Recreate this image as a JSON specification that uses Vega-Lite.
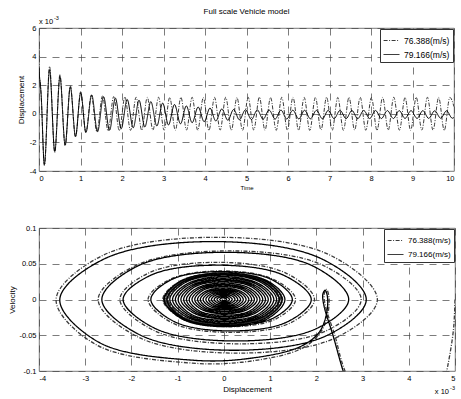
{
"$schema":"https://vega.github.io/schema/vega-lite/v6.json",
"background":"white",
"padding":{"left":8,"top":7,"right":4,"bottom":2},
"spacing":57,
"bounds":"flush",
"resolve":{"scale":{"color":"independent","strokeDash":"independent"},"legend":{"color":"independent","strokeDash":"independent"}},
"config":{
 "font":"Liberation Sans",
 "view":{"stroke":"#555","strokeWidth":0.8},
 "axis":{"domain":false,"ticks":false,"labelOverlap":false,"labelFontSize":7.5,"labelColor":"#000","titleFontSize":8,"titleFontWeight":"normal","titleColor":"#000","grid":true,"gridColor":"#444","gridDash":[7,6],"gridWidth":0.7,"labelPadding":3,"labelExpr":"'' + datum.value"},
 "legend":{"orient":"top-right","offset":1,"fillColor":"#fff","strokeColor":"#333","padding":3,"labelFontSize":8.5,"labelColor":"#000","symbolType":"stroke","symbolSize":250,"symbolStrokeWidth":1,"rowPadding":1}
},
"datasets":{
"top":[
{"s":"a","t":0,"d":5},{"s":"a","t":0.012,"d":2.6},{"s":"a","t":0.03,"d":2.2},{"s":"a","t":0.05,"d":1.4},{"s":"a","t":0.13,"d":-3.63},{"s":"a","t":0.255,"d":3.32},{"s":"a","t":0.38,"d":-2.72},{"s":"a","t":0.505,"d":2.75},{"s":"a","t":0.63,"d":-2.25},{"s":"a","t":0.755,"d":1.96},{"s":"a","t":0.88,"d":-1.64},{"s":"a","t":1.005,"d":1.55},{"s":"a","t":1.13,"d":-1.32},
{"s":"a","t":1.26,"d":1.3},{"s":"a","t":1.395,"d":-1.25},{"s":"a","t":1.53,"d":1.25},{"s":"a","t":1.665,"d":-1.2},{"s":"a","t":1.8,"d":1.2},{"s":"a","t":1.935,"d":-1.18},{"s":"a","t":2.07,"d":1.18},{"s":"a","t":2.205,"d":-1.16},{"s":"a","t":2.34,"d":1.16},{"s":"a","t":2.475,"d":-1.15},{"s":"a","t":2.61,"d":1.15},{"s":"a","t":2.745,"d":-1.14},{"s":"a","t":2.88,"d":1.16},{"s":"a","t":3.015,"d":-1.15},{"s":"a","t":3.15,"d":1.14},{"s":"a","t":3.285,"d":-1.16},{"s":"a","t":3.42,"d":1.15},{"s":"a","t":3.555,"d":-1.14},{"s":"a","t":3.69,"d":1.16},{"s":"a","t":3.825,"d":-1.15},{"s":"a","t":3.96,"d":1.14},{"s":"a","t":4.095,"d":-1.16},{"s":"a","t":4.23,"d":1.15},{"s":"a","t":4.365,"d":-1.14},{"s":"a","t":4.5,"d":1.16},{"s":"a","t":4.635,"d":-1.15},{"s":"a","t":4.77,"d":1.14},{"s":"a","t":4.905,"d":-1.16},{"s":"a","t":5.04,"d":1.15},{"s":"a","t":5.175,"d":-1.14},{"s":"a","t":5.31,"d":1.16},{"s":"a","t":5.445,"d":-1.15},{"s":"a","t":5.58,"d":1.14},{"s":"a","t":5.715,"d":-1.16},{"s":"a","t":5.85,"d":1.15},{"s":"a","t":5.985,"d":-1.14},{"s":"a","t":6.12,"d":1.16},{"s":"a","t":6.255,"d":-1.15},{"s":"a","t":6.39,"d":1.14},{"s":"a","t":6.525,"d":-1.16},{"s":"a","t":6.66,"d":1.15},{"s":"a","t":6.795,"d":-1.14},{"s":"a","t":6.93,"d":1.16},{"s":"a","t":7.065,"d":-1.15},{"s":"a","t":7.2,"d":1.14},{"s":"a","t":7.335,"d":-1.16},{"s":"a","t":7.47,"d":1.15},{"s":"a","t":7.605,"d":-1.14},{"s":"a","t":7.74,"d":1.16},{"s":"a","t":7.875,"d":-1.15},{"s":"a","t":8.01,"d":1.14},{"s":"a","t":8.145,"d":-1.16},{"s":"a","t":8.28,"d":1.15},{"s":"a","t":8.415,"d":-1.14},{"s":"a","t":8.55,"d":1.16},{"s":"a","t":8.685,"d":-1.15},{"s":"a","t":8.82,"d":1.14},{"s":"a","t":8.955,"d":-1.16},{"s":"a","t":9.09,"d":1.15},{"s":"a","t":9.225,"d":-1.14},{"s":"a","t":9.36,"d":1.16},{"s":"a","t":9.495,"d":-1.15},{"s":"a","t":9.63,"d":1.14},{"s":"a","t":9.765,"d":-1.16},{"s":"a","t":9.9,"d":1.15},{"s":"a","t":10,"d":0.5},
{"s":"b","t":0,"d":3.2},{"s":"b","t":0.015,"d":2.5},{"s":"b","t":0.03,"d":2.15},{"s":"b","t":0.05,"d":1.4},{"s":"b","t":0.13,"d":-3.55},{"s":"b","t":0.255,"d":3.08},{"s":"b","t":0.38,"d":-2.64},{"s":"b","t":0.505,"d":2.6},{"s":"b","t":0.63,"d":-2.18},{"s":"b","t":0.755,"d":1.89},{"s":"b","t":0.88,"d":-1.58},{"s":"b","t":1.005,"d":1.48},{"s":"b","t":1.13,"d":-1.3},
{"s":"b","t":1.27,"d":1.32},{"s":"b","t":1.41,"d":-1.26},{"s":"b","t":1.555,"d":1.2},{"s":"b","t":1.7,"d":-1.15},{"s":"b","t":1.84,"d":1.1},{"s":"b","t":1.98,"d":-1.05},{"s":"b","t":2.125,"d":1.0},{"s":"b","t":2.27,"d":-0.98},{"s":"b","t":2.41,"d":0.95},{"s":"b","t":2.55,"d":-0.92},{"s":"b","t":2.695,"d":0.85},{"s":"b","t":2.84,"d":-0.85},{"s":"b","t":2.98,"d":0.75},{"s":"b","t":3.12,"d":-0.78},{"s":"b","t":3.265,"d":0.65},{"s":"b","t":3.41,"d":-0.7},{"s":"b","t":3.55,"d":0.55},{"s":"b","t":3.69,"d":-0.62},{"s":"b","t":3.835,"d":0.47},{"s":"b","t":3.98,"d":-0.55},{"s":"b","t":4.12,"d":0.4},{"s":"b","t":4.26,"d":-0.5},{"s":"b","t":4.405,"d":0.34},{"s":"b","t":4.55,"d":-0.45},{"s":"b","t":4.69,"d":0.3},{"s":"b","t":4.83,"d":-0.42},{"s":"b","t":4.975,"d":0.28},{"s":"b","t":5.12,"d":-0.4},{"s":"b","t":5.26,"d":0.27},{"s":"b","t":5.4,"d":-0.38},{"s":"b","t":5.545,"d":0.26},{"s":"b","t":5.69,"d":-0.37},{"s":"b","t":5.83,"d":0.26},{"s":"b","t":5.97,"d":-0.36},{"s":"b","t":6.115,"d":0.25},{"s":"b","t":6.26,"d":-0.36},{"s":"b","t":6.4,"d":0.25},{"s":"b","t":6.54,"d":-0.35},{"s":"b","t":6.685,"d":0.24},{"s":"b","t":6.83,"d":-0.35},{"s":"b","t":6.97,"d":0.24},{"s":"b","t":7.11,"d":-0.34},{"s":"b","t":7.255,"d":0.24},{"s":"b","t":7.4,"d":-0.34},{"s":"b","t":7.54,"d":0.23},{"s":"b","t":7.68,"d":-0.34},{"s":"b","t":7.825,"d":0.23},{"s":"b","t":7.97,"d":-0.33},{"s":"b","t":8.11,"d":0.23},{"s":"b","t":8.25,"d":-0.33},{"s":"b","t":8.395,"d":0.22},{"s":"b","t":8.54,"d":-0.33},{"s":"b","t":8.68,"d":0.22},{"s":"b","t":8.82,"d":-0.32},{"s":"b","t":8.965,"d":0.22},{"s":"b","t":9.11,"d":-0.32},{"s":"b","t":9.25,"d":0.22},{"s":"b","t":9.39,"d":-0.32},{"s":"b","t":9.535,"d":0.21},{"s":"b","t":9.68,"d":-0.31},{"s":"b","t":9.82,"d":0.21},{"s":"b","t":9.96,"d":-0.31},{"s":"b","t":10,"d":-0.25}
],
"ph":[
{"s":"a","x":5.0,"v":0},{"s":"a","x":4.97,"v":-0.04},{"s":"a","x":4.88,"v":-0.08},{"s":"a","x":4.78,"v":-0.11},{"s":"a","x":4.3,"v":-0.2},{"s":"a","x":3.4,"v":-0.2},{"s":"a","x":2.62,"v":-0.1},{"s":"a","x":2.4,"v":-0.05},{"s":"a","x":2.2,"v":-0.01},{"s":"a","x":2.17,"v":0.008},{"s":"a","x":2.22,"v":0.014},{"s":"a","x":2.27,"v":0.005},{"s":"a","x":2.25,"v":-0.02},{"s":"a","x":2.1,"v":-0.045},{"s":"a","x":1.7,"v":-0.068},{"s":"a","x":0.6,"v":-0.086},{"s":"a","x":-0.68,"v":-0.089},{"s":"a","x":-2.77,"v":-0.063},{"s":"a","x":-3.63,"v":0},
{"s":"a","x":-2.61,"v":0.062},{"s":"a","x":-0.16,"v":0.087},{"s":"a","x":2.3,"v":0.062},{"s":"a","x":3.32,"v":0},
{"s":"a","x":2.44,"v":-0.053},{"s":"a","x":0.3,"v":-0.075},{"s":"a","x":-1.84,"v":-0.053},{"s":"a","x":-2.72,"v":0},
{"s":"a","x":-1.89,"v":0.048},{"s":"a","x":0.13,"v":0.068},{"s":"a","x":2.14,"v":0.048},{"s":"a","x":2.97,"v":0},
{"s":"a","x":2.21,"v":-0.044},{"s":"a","x":0.36,"v":-0.062},{"s":"a","x":-1.49,"v":-0.044},{"s":"a","x":-2.25,"v":0},
{"s":"a","x":-1.63,"v":0.037},{"s":"a","x":-0.15,"v":0.052},{"s":"a","x":1.34,"v":0.037},{"s":"a","x":1.96,"v":0},
{"s":"a","x":1.43,"v":-0.033},{"s":"a","x":0.16,"v":-0.046},{"s":"a","x":-1.11,"v":-0.033},{"s":"a","x":-1.64,"v":0},
{"s":"a","x":-1.17,"v":0.028},{"s":"a","x":-0.05,"v":0.04},{"s":"a","x":1.08,"v":0.028},{"s":"a","x":1.55,"v":0},
{"s":"a","x":1.13,"v":-0.027},{"s":"a","x":0.12,"v":-0.038},{"s":"a","x":-0.9,"v":-0.027},{"s":"a","x":-1.32,"v":0},
{"s":"a","x":-0.94,"v":0.026},{"s":"a","x":-0.03,"v":0.037},{"s":"a","x":0.89,"v":0.026},{"s":"a","x":1.27,"v":0},
{"s":"a","x":0.9,"v":-0.025},{"s":"a","x":0.01,"v":-0.036},{"s":"a","x":-0.88,"v":-0.025},{"s":"a","x":-1.25,"v":0},
{"s":"a","x":-0.89,"v":0.025},{"s":"a","x":-0.03,"v":0.035},{"s":"a","x":0.84,"v":0.025},{"s":"a","x":1.2,"v":0},
{"s":"a","x":0.83,"v":-0.025},{"s":"a","x":-0.05,"v":-0.036},{"s":"a","x":-0.93,"v":-0.025},{"s":"a","x":-1.3,"v":0},
{"s":"a","x":-0.93,"v":0.026},{"s":"a","x":-0.03,"v":0.037},{"s":"a","x":0.88,"v":0.026},{"s":"a","x":1.25,"v":0},
{"s":"a","x":0.89,"v":-0.025},{"s":"a","x":0.02,"v":-0.036},{"s":"a","x":-0.86,"v":-0.025},{"s":"a","x":-1.22,"v":0},
{"s":"a","x":-0.87,"v":0.025},{"s":"a","x":-0.02,"v":0.035},{"s":"a","x":0.83,"v":0.025},{"s":"a","x":1.18,"v":0},
{"s":"a","x":0.82,"v":-0.025},{"s":"a","x":-0.05,"v":-0.036},{"s":"a","x":-0.92,"v":-0.025},{"s":"a","x":-1.28,"v":0},
{"s":"a","x":-0.91,"v":0.025},{"s":"a","x":-0.03,"v":0.036},{"s":"a","x":0.86,"v":0.025},{"s":"a","x":1.23,"v":0},
{"s":"a","x":0.87,"v":-0.025},{"s":"a","x":-0.01,"v":-0.036},{"s":"a","x":-0.88,"v":-0.025},{"s":"a","x":-1.24,"v":0},
{"s":"a","x":-0.89,"v":0.025},{"s":"a","x":-0.02,"v":0.035},{"s":"a","x":0.85,"v":0.025},{"s":"a","x":1.2,"v":0},
{"s":"a","x":0.85,"v":-0.025},{"s":"a","x":0,"v":-0.035},{"s":"a","x":-0.85,"v":-0.025},{"s":"a","x":-1.2,"v":0},
{"s":"a","x":-0.84,"v":0.025},{"s":"a","x":0.03,"v":0.036},{"s":"a","x":0.9,"v":0.025},{"s":"a","x":1.26,"v":0},
{"s":"a","x":0.89,"v":-0.026},{"s":"a","x":-0.01,"v":-0.037},{"s":"a","x":-0.9,"v":-0.026},{"s":"a","x":-1.27,"v":0},
{"s":"a","x":-0.91,"v":0.025},{"s":"a","x":-0.04,"v":0.036},{"s":"a","x":0.83,"v":0.025},{"s":"a","x":1.19,"v":0},
{"s":"a","x":0.84,"v":-0.025},{"s":"a","x":-0.02,"v":-0.035},{"s":"a","x":-0.88,"v":-0.025},{"s":"a","x":-1.23,"v":0},
{"s":"b","x":2.9,"v":-0.16},{"s":"b","x":2.58,"v":-0.1},{"s":"b","x":2.36,"v":-0.05},{"s":"b","x":2.17,"v":-0.01},{"s":"b","x":2.14,"v":0.007},{"s":"b","x":2.19,"v":0.013},{"s":"b","x":2.24,"v":0.004},{"s":"b","x":2.22,"v":-0.02},{"s":"b","x":2.06,"v":-0.046},{"s":"b","x":1.65,"v":-0.066},{"s":"b","x":0.6,"v":-0.082},{"s":"b","x":-0.65,"v":-0.085},{"s":"b","x":-2.7,"v":-0.06},{"s":"b","x":-3.55,"v":0},
{"s":"b","x":-2.58,"v":0.057},{"s":"b","x":-0.24,"v":0.081},{"s":"b","x":2.11,"v":0.057},{"s":"b","x":3.08,"v":0},
{"s":"b","x":2.24,"v":-0.05},{"s":"b","x":0.22,"v":-0.071},{"s":"b","x":-1.8,"v":-0.05},{"s":"b","x":-2.64,"v":0},
{"s":"b","x":-1.86,"v":0.047},{"s":"b","x":0.03,"v":0.066},{"s":"b","x":1.92,"v":0.047},{"s":"b","x":2.7,"v":0},
{"s":"b","x":1.99,"v":-0.041},{"s":"b","x":0.26,"v":-0.058},{"s":"b","x":-1.47,"v":-0.041},{"s":"b","x":-2.18,"v":0},
{"s":"b","x":-1.58,"v":0.034},{"s":"b","x":-0.15,"v":0.048},{"s":"b","x":1.29,"v":0.034},{"s":"b","x":1.89,"v":0},
{"s":"b","x":1.38,"v":-0.031},{"s":"b","x":0.16,"v":-0.044},{"s":"b","x":-1.07,"v":-0.031},{"s":"b","x":-1.58,"v":0},
{"s":"b","x":-1.13,"v":0.028},{"s":"b","x":-0.05,"v":0.039},{"s":"b","x":1.03,"v":0.028},{"s":"b","x":1.48,"v":0},
{"s":"b","x":1.07,"v":-0.026},{"s":"b","x":0.09,"v":-0.037},{"s":"b","x":-0.89,"v":-0.026},{"s":"b","x":-1.3,"v":0},
{"s":"b","x":-0.92,"v":0.026},{"s":"b","x":0.01,"v":0.037},{"s":"b","x":0.94,"v":0.026},{"s":"b","x":1.32,"v":0},
{"s":"b","x":0.94,"v":-0.027},{"s":"b","x":0.015,"v":-0.038},{"s":"b","x":-0.91,"v":-0.027},{"s":"b","x":-1.29,"v":0},
{"s":"b","x":-0.92,"v":0.026},{"s":"b","x":-0.015,"v":0.037},{"s":"b","x":0.89,"v":0.026},{"s":"b","x":1.26,"v":0},
{"s":"b","x":0.9,"v":-0.026},{"s":"b","x":0.015,"v":-0.036},{"s":"b","x":-0.87,"v":-0.026},{"s":"b","x":-1.23,"v":0},
{"s":"b","x":-0.87,"v":0.025},{"s":"b","x":-0.015,"v":0.035},{"s":"b","x":0.84,"v":0.025},{"s":"b","x":1.2,"v":0},
{"s":"b","x":0.85,"v":-0.024},{"s":"b","x":0.015,"v":-0.034},{"s":"b","x":-0.82,"v":-0.024},{"s":"b","x":-1.17,"v":0},
{"s":"b","x":-0.83,"v":0.024},{"s":"b","x":-0.015,"v":0.034},{"s":"b","x":0.8,"v":0.024},{"s":"b","x":1.14,"v":0},
{"s":"b","x":0.81,"v":-0.023},{"s":"b","x":0.015,"v":-0.033},{"s":"b","x":-0.78,"v":-0.023},{"s":"b","x":-1.11,"v":0},
{"s":"b","x":-0.79,"v":0.022},{"s":"b","x":-0.015,"v":0.032},{"s":"b","x":0.76,"v":0.022},{"s":"b","x":1.08,"v":0},
{"s":"b","x":0.77,"v":-0.022},{"s":"b","x":0.015,"v":-0.031},{"s":"b","x":-0.74,"v":-0.022},{"s":"b","x":-1.05,"v":0},
{"s":"b","x":-0.75,"v":0.021},{"s":"b","x":-0.015,"v":0.03},{"s":"b","x":0.72,"v":0.021},{"s":"b","x":1.02,"v":0},
{"s":"b","x":0.73,"v":-0.021},{"s":"b","x":0.015,"v":-0.029},{"s":"b","x":-0.7,"v":-0.021},{"s":"b","x":-0.99,"v":0},
{"s":"b","x":-0.7,"v":0.02},{"s":"b","x":-0.015,"v":0.028},{"s":"b","x":0.67,"v":0.02},{"s":"b","x":0.96,"v":0},
{"s":"b","x":0.68,"v":-0.019},{"s":"b","x":0.015,"v":-0.027},{"s":"b","x":-0.65,"v":-0.019},{"s":"b","x":-0.93,"v":0},
{"s":"b","x":-0.66,"v":0.019},{"s":"b","x":-0.015,"v":0.027},{"s":"b","x":0.63,"v":0.019},{"s":"b","x":0.9,"v":0},
{"s":"b","x":0.64,"v":-0.018},{"s":"b","x":0.015,"v":-0.026},{"s":"b","x":-0.61,"v":-0.018},{"s":"b","x":-0.87,"v":0},
{"s":"b","x":-0.62,"v":0.018},{"s":"b","x":-0.015,"v":0.025},{"s":"b","x":0.59,"v":0.018},{"s":"b","x":0.84,"v":0},
{"s":"b","x":0.6,"v":-0.017},{"s":"b","x":0.015,"v":-0.024},{"s":"b","x":-0.57,"v":-0.017},{"s":"b","x":-0.81,"v":0},
{"s":"b","x":-0.58,"v":0.016},{"s":"b","x":-0.015,"v":0.023},{"s":"b","x":0.55,"v":0.016},{"s":"b","x":0.78,"v":0},
{"s":"b","x":0.56,"v":-0.016},{"s":"b","x":0.015,"v":-0.022},{"s":"b","x":-0.53,"v":-0.016},{"s":"b","x":-0.75,"v":0},
{"s":"b","x":-0.54,"v":0.015},{"s":"b","x":-0.015,"v":0.021},{"s":"b","x":0.5,"v":0.015},{"s":"b","x":0.72,"v":0},
{"s":"b","x":0.51,"v":-0.014},{"s":"b","x":0.015,"v":-0.02},{"s":"b","x":-0.48,"v":-0.014},{"s":"b","x":-0.69,"v":0},
{"s":"b","x":-0.49,"v":0.014},{"s":"b","x":-0.015,"v":0.02},{"s":"b","x":0.46,"v":0.014},{"s":"b","x":0.66,"v":0},
{"s":"b","x":0.47,"v":-0.013},{"s":"b","x":0.015,"v":-0.019},{"s":"b","x":-0.44,"v":-0.013},{"s":"b","x":-0.63,"v":0},
{"s":"b","x":-0.45,"v":0.013},{"s":"b","x":-0.015,"v":0.018},{"s":"b","x":0.42,"v":0.013},{"s":"b","x":0.6,"v":0},
{"s":"b","x":0.43,"v":-0.012},{"s":"b","x":0.015,"v":-0.017},{"s":"b","x":-0.4,"v":-0.012},{"s":"b","x":-0.57,"v":0},
{"s":"b","x":-0.41,"v":0.011},{"s":"b","x":-0.015,"v":0.016},{"s":"b","x":0.38,"v":0.011},{"s":"b","x":0.54,"v":0},
{"s":"b","x":0.39,"v":-0.011},{"s":"b","x":0.015,"v":-0.015},{"s":"b","x":-0.36,"v":-0.011},{"s":"b","x":-0.51,"v":0},
{"s":"b","x":-0.37,"v":0.01},{"s":"b","x":-0.015,"v":0.014},{"s":"b","x":0.34,"v":0.01},{"s":"b","x":0.48,"v":0},
{"s":"b","x":0.34,"v":-0.0095},{"s":"b","x":0.015,"v":-0.0135},{"s":"b","x":-0.31,"v":-0.0095},{"s":"b","x":-0.45,"v":0},
{"s":"b","x":-0.32,"v":0.009},{"s":"b","x":-0.015,"v":0.0126},{"s":"b","x":0.29,"v":0.009},{"s":"b","x":0.42,"v":0},
{"s":"b","x":0.3,"v":-0.0083},{"s":"b","x":0.015,"v":-0.0117},{"s":"b","x":-0.27,"v":-0.0083},{"s":"b","x":-0.39,"v":0},
{"s":"b","x":-0.28,"v":0.0077},{"s":"b","x":-0.015,"v":0.0109},{"s":"b","x":0.25,"v":0.0077},{"s":"b","x":0.36,"v":0},
{"s":"b","x":0.26,"v":-0.0071},{"s":"b","x":0.015,"v":-0.01},{"s":"b","x":-0.23,"v":-0.0071},{"s":"b","x":-0.33,"v":0},
{"s":"b","x":-0.24,"v":0.0065},{"s":"b","x":-0.015,"v":0.0091},{"s":"b","x":0.21,"v":0.0065},{"s":"b","x":0.3,"v":0},
{"s":"b","x":0.22,"v":-0.0058},{"s":"b","x":0.015,"v":-0.0083},{"s":"b","x":-0.19,"v":-0.0058},{"s":"b","x":-0.27,"v":0},
{"s":"b","x":-0.2,"v":0.0052},{"s":"b","x":-0.015,"v":0.0074},{"s":"b","x":0.17,"v":0.0052},{"s":"b","x":0.24,"v":0},
{"s":"b","x":0.17,"v":-0.0046},{"s":"b","x":0.015,"v":-0.0065},{"s":"b","x":-0.14,"v":-0.0046},{"s":"b","x":-0.21,"v":0},
{"s":"b","x":-0.15,"v":0.004},{"s":"b","x":-0.015,"v":0.0057},{"s":"b","x":0.12,"v":0.004},{"s":"b","x":0.18,"v":0},
{"s":"b","x":0.13,"v":-0.0034},{"s":"b","x":0.015,"v":-0.0048},{"s":"b","x":-0.1,"v":-0.0034},{"s":"b","x":-0.15,"v":0},
{"s":"b","x":-0.11,"v":0.0028},{"s":"b","x":-0.015,"v":0.0039},{"s":"b","x":0.08,"v":0.0028},{"s":"b","x":0.12,"v":0},
{"s":"b","x":0.09,"v":-0.0022},{"s":"b","x":0.015,"v":-0.003},{"s":"b","x":-0.06,"v":-0.0022},{"s":"b","x":-0.09,"v":0},
{"s":"b","x":-0.07,"v":0.0015},{"s":"b","x":-0.015,"v":0.0022},{"s":"b","x":0.04,"v":0.0015},{"s":"b","x":0.06,"v":0},
{"s":"b","x":0.04,"v":-0.001},{"s":"b","x":0.01,"v":-0.0015},{"s":"b","x":-0.03,"v":-0.001},{"s":"b","x":-0.04,"v":0}
]
},
"vconcat":[
{
 "width":415,"height":143,
 "title":{"text":"Full scale Vehicle model","fontSize":8,"fontWeight":"normal","offset":0,"color":"#000"},
 "layer":[
  {"data":{"name":"top"},
   "mark":{"type":"line","interpolate":"monotone","strokeWidth":1,"clip":true},
   "encoding":{
    "x":{"field":"t","type":"quantitative","scale":{"domain":[0,10],"nice":false},"axis":{"values":[0,1,2,3,4,5,6,7,8,9,10],"title":"Time","titleFontSize":6,"titlePadding":3}},
    "y":{"field":"d","type":"quantitative","scale":{"domain":[-4,6],"nice":false},"axis":{"values":[-4,-2,0,2,4,6],"title":"Displacement","titlePadding":4}},
    "color":{"field":"s","type":"nominal","scale":{"domain":["a","b"],"range":["#3a3a3a","#000000"]},"legend":{"title":null,"labelExpr":"datum.label == 'a' ? '76.388(m/s)' : '79.166(m/s)'"}},
    "strokeDash":{"field":"s","type":"nominal","scale":{"domain":["a","b"],"range":[[4,1.5,1,1.5],[1,0]]},"legend":{"title":null,"labelExpr":"datum.label == 'a' ? '76.388(m/s)' : '79.166(m/s)'"}}
   }},
  {"data":{"values":[{}]},"mark":{"type":"text","align":"left","baseline":"alphabetic","fontSize":7.5,"dy":-4,"color":"#000"},"encoding":{"x":{"datum":0,"type":"quantitative","axis":{"values":[0,1,2,3,4,5,6,7,8,9,10],"title":"Time","titleFontSize":6,"titlePadding":3}},"y":{"datum":6,"type":"quantitative","axis":{"values":[-4,-2,0,2,4,6],"title":"Displacement","titlePadding":4}},"text":{"value":"x 10"}}},
  {"data":{"values":[{}]},"mark":{"type":"text","align":"left","baseline":"alphabetic","fontSize":5.5,"dx":15,"dy":-8,"color":"#000"},"encoding":{"x":{"datum":0,"type":"quantitative","axis":{"values":[0,1,2,3,4,5,6,7,8,9,10],"title":"Time","titleFontSize":6,"titlePadding":3}},"y":{"datum":6,"type":"quantitative","axis":{"values":[-4,-2,0,2,4,6],"title":"Displacement","titlePadding":4}},"text":{"value":"-3"}}}
 ]
},
{
 "width":416,"height":143,
 "layer":[
  {"data":{"name":"ph"},
   "mark":{"type":"line","interpolate":"catmull-rom","strokeWidth":1.3,"clip":true},
   "encoding":{
    "x":{"field":"x","type":"quantitative","scale":{"domain":[-4,5],"nice":false},"axis":{"values":[-4,-3,-2,-1,0,1,2,3,4,5],"title":"Displacement","titlePadding":4}},
    "y":{"field":"v","type":"quantitative","scale":{"domain":[-0.1,0.1],"nice":false},"axis":{"values":[-0.1,-0.05,0,0.05,0.1],"title":"Velocity","titlePadding":2}},
    "order":{"value":null},
    "color":{"field":"s","type":"nominal","scale":{"domain":["a","b"],"range":["#3a3a3a","#000000"]},"legend":{"title":null,"labelFontSize":8,"labelExpr":"datum.label == 'a' ? '76.388(m/s)' : '79.166(m/s)'"}},
    "strokeDash":{"field":"s","type":"nominal","scale":{"domain":["a","b"],"range":[[4,1.5,1,1.5],[1,0]]},"legend":{"title":null,"labelFontSize":8,"labelExpr":"datum.label == 'a' ? '76.388(m/s)' : '79.166(m/s)'"}}
   }},
  {"data":{"values":[{}]},"mark":{"type":"text","align":"right","baseline":"alphabetic","fontSize":7.5,"dx":-6,"dy":23,"color":"#000"},"encoding":{"x":{"datum":5,"type":"quantitative","axis":{"values":[-4,-3,-2,-1,0,1,2,3,4,5],"title":"Displacement","titlePadding":4}},"y":{"datum":-0.1,"type":"quantitative","axis":{"values":[-0.1,-0.05,0,0.05,0.1],"title":"Velocity","titlePadding":2}},"text":{"value":"x 10"}}},
  {"data":{"values":[{}]},"mark":{"type":"text","align":"right","baseline":"alphabetic","fontSize":5.5,"dx":0,"dy":19,"color":"#000"},"encoding":{"x":{"datum":5,"type":"quantitative","axis":{"values":[-4,-3,-2,-1,0,1,2,3,4,5],"title":"Displacement","titlePadding":4}},"y":{"datum":-0.1,"type":"quantitative","axis":{"values":[-0.1,-0.05,0,0.05,0.1],"title":"Velocity","titlePadding":2}},"text":{"value":"-3"}}}
 ]
}
]
}
